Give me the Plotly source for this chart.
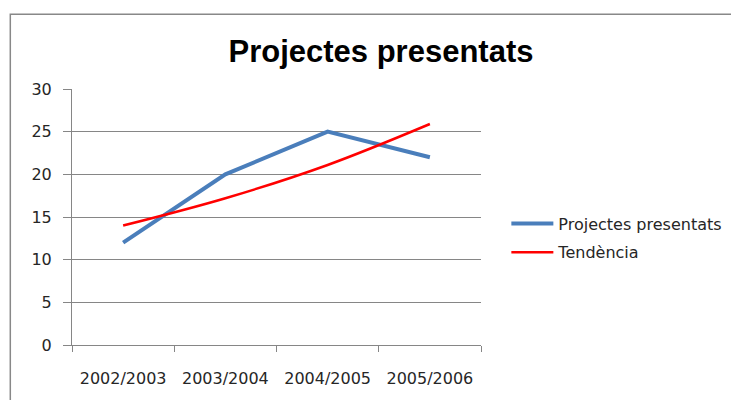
import plotly.graph_objects as go

categories = ["2002/2003", "2003/2004", "2004/2005", "2005/2006"]
projectes = [12, 20, 25, 22]
tendencia = [14.0, 17.2, 21.1, 25.9]
y_ticks = [0, 5, 10, 15, 20, 25, 30]

# page body has an 8px margin; figure coordinates are offset by it
W, H = 731, 392

fig = go.Figure()
fig.add_trace(go.Scatter(x=categories, y=projectes, mode="lines", name="Projectes presentats",
                         line=dict(color="#4A7EBB", width=4), legendgroup="a"))
fig.add_trace(go.Scatter(x=categories, y=tendencia, mode="lines", name="Tendència",
                         line=dict(color="#FF0000", width=2.5, shape="spline"), legendgroup="b"))

fig.update_layout(
    width=W, height=H,
    margin=dict(l=64, r=W - 475, t=81, b=H - 341),
    paper_bgcolor="white", plot_bgcolor="white",
    font=dict(family="DejaVu Sans", size=16, color="#262626"),
    title=dict(text="<b>Projectes presentats</b>", x=373/W, xref="container", xanchor="center",
               y=1-43/H, yref="container", yanchor="middle",
               font=dict(family="Liberation Sans", size=31, color="#000000")),
    legend=dict(x=1.062, y=0.418, xanchor="left", yanchor="middle", xref="paper", yref="paper",
                traceorder="grouped", tracegroupgap=5, itemwidth=42,
                font=dict(family="DejaVu Sans", size=16, color="#262626"), bgcolor="rgba(0,0,0,0)"),
    showlegend=True,
)
fig.update_xaxes(type="category", range=[-0.5, 3.5], tickson="boundaries", ticks="outside",
                 ticklen=6, tickcolor="#868686", showline=True, linecolor="#868686", linewidth=1,
                 showgrid=False, ticklabelstandoff=19)
fig.update_yaxes(range=[0, 30], tickvals=y_ticks, ticks="outside", ticklen=8, tickcolor="#868686",
                 showline=True, linecolor="#868686", linewidth=1, showgrid=True, gridcolor="#868686",
                 gridwidth=1, zeroline=False, ticklabelstandoff=8)
fig.add_shape(type="rect", xref="paper", yref="paper",
              x0=(2-64)/411, x1=1.8, y0=-0.5, y1=(341-5)/260,
              line=dict(color="#888888", width=1.5), fillcolor="rgba(0,0,0,0)", layer="below")
fig.write_html("out.html")
